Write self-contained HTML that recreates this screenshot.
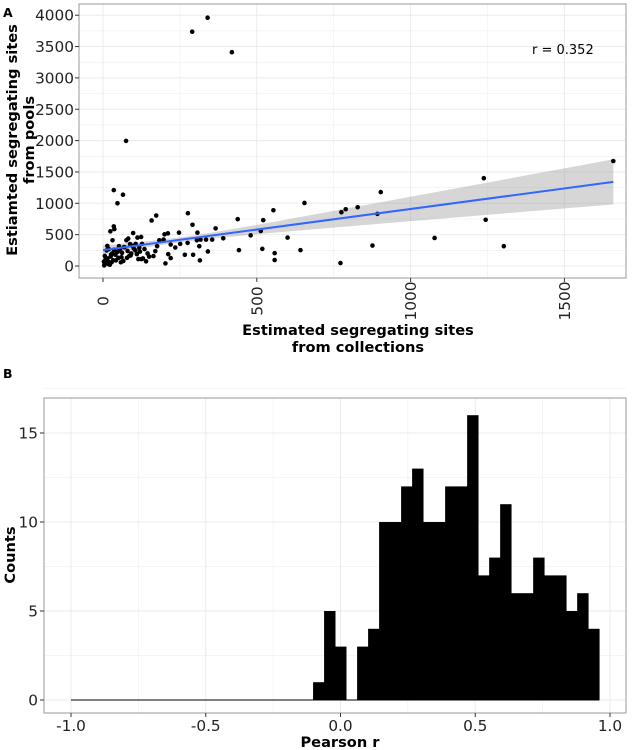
<!DOCTYPE html>
<html><head><meta charset="utf-8"><style>
body{margin:0;background:#fff;}
svg{display:block;font-family:"DejaVu Sans","Liberation Sans",sans-serif;}
</style></head><body>
<svg id="c" width="640" height="750"></svg>
<script>
// Panel A data
const scatterX=[340,290,419,75,35,65,47,1659,1238,903,655,554,828,789,775,892,1244,1078,1303,876,772,600,642,558,558,521,513,480,518,442,438,366,391,355,335,291,276,307,313,341,315,293,266,247,173,158,200,211,203,212,220,235,251,275,305,317,98,24,37,35,31,76,82,112,124,106,127,140,164,170,176,183,197,220,52,
5,10,15,20,25,30,12,18,8,40,45,55,60,70,80,90,100,110,120,130,22,28,33,50,62,85,95,105,115,135,145,150,14,26,42,58,68,78,88,4,16,36,48,66,92,118,125,6,3,19];
const scatterY=[3960,3737,3410,1995,1210,1137,1000,1674,1400,1179,1005,889,937,905,858,831,737,447,316,326,47,453,253,205,95,731,558,489,274,253,747,600,442,421,421,658,842,532,316,232,89,179,179,532,805,726,505,521,42,189,126,295,353,368,410,421,526,553,589,632,410,410,437,453,463,353,353,74,158,237,316,410,421,342,316,
40,80,120,60,150,200,250,30,100,180,220,260,140,300,240,170,280,190,230,120,20,60,90,130,210,160,320,250,110,270,200,150,320,180,90,60,300,130,350,10,50,260,230,80,200,290,110,160,70,270];
const fitIntercept=253, fitSlope=0.6564;
// Panel B data
const binStart=-1.0, binWidth=0.04083;
const counts=[0,0,0,0,0,0,0,0,0,0,0,0,0,0,0,0,0,0,0,0,0,0,1,5,3,0,3,4,10,10,12,13,10,10,12,12,16,7,8,11,6,6,8,7,7,5,6,4];
const aYTicks=[0,500,1000,1500,2000,2500,3000,3500,4000];
const aXTicks=[0,500,1000,1500];
const bXTicks=[-1.0,-0.5,0.0,0.5,1.0];
const bXLabels=["-1.0","-0.5","0.0","0.5","1.0"];
const bYTicks=[0,5,10,15];

const NS="http://www.w3.org/2000/svg";
const svg=document.getElementById('c');
function mk(t,a,p){const e=document.createElementNS(NS,t);for(const k in a)e.setAttribute(k,a[k]);(p||svg).appendChild(e);return e;}
const ax=v=>103+v*0.3076, ay=v=>266-v*0.0627;
const bx=v=>340.5+v*269.5, by=v=>700-v*17.8;
const BL=44, TF=15.3;

let t;
t=mk('text',{x:3,y:17,'font-size':12.5,'font-weight':'bold'});t.textContent='A';

t=mk('text',{x:3,y:378,'font-size':12.5,'font-weight':'bold'});t.textContent='B';


const gA=mk('g',{});
for(let v=0;v<=4000;v+=250){mk('line',{x1:79,x2:626,y1:ay(v),y2:ay(v),stroke:'#ebebeb','stroke-width':v%500?0.5:1},gA);}
for(let v=-250;v<=1750;v+=250){const x=ax(v);if(x<79||x>626)continue;mk('line',{x1:x,x2:x,y1:4,y2:278,stroke:'#ebebeb','stroke-width':v%500?0.5:1},gA);}
const xm=250;
let up=[],dn=[];
for(let i=0;i<=50;i++){const v=1659*i/50;const h=Math.sqrt(1600+0.0645*(v-xm)*(v-xm));const yv=fitIntercept+fitSlope*v;up.push(ax(v)+','+ay(yv+h));dn.unshift(ax(v)+','+ay(yv-h));}
t=mk('polygon',{points:up.concat(dn).join(' '),fill:'#999','fill-opacity':0.4});

const gP=mk('g',{});
for(let i=0;i<scatterX.length;i++){const c=mk('circle',{cx:ax(scatterX[i]),cy:ay(scatterY[i]),r:2.3,fill:'#000'},gP);
}
t=mk('line',{x1:ax(0),y1:ay(fitIntercept),x2:ax(1659),y2:ay(fitIntercept+fitSlope*1659),stroke:'#3366ff','stroke-width':2});

t=mk('rect',{x:79,y:4,width:547,height:274,fill:'none',stroke:'#999','stroke-width':1});

t=mk('text',{x:532,y:54,'font-size':13});t.textContent='r = 0.352';

aYTicks.forEach(v=>{mk('line',{x1:75,x2:79,y1:ay(v),y2:ay(v),stroke:'#333'});
const e=mk('text',{x:74,y:ay(v)+5.5,'font-size':TF,'text-anchor':'end',fill:'#222'});e.textContent=v;
});
aXTicks.forEach(v=>{mk('line',{x1:ax(v),x2:ax(v),y1:278,y2:282,stroke:'#333'});
const e=mk('text',{x:0,y:0,'font-size':TF,'text-anchor':'middle',fill:'#222',transform:`translate(${ax(v)+5.5},301) rotate(-90)`});e.textContent=v;
});
t=mk('text',{x:358,y:335,'font-size':14.6,'font-weight':'bold','text-anchor':'middle'});t.textContent='Estimated segregating sites';

t=mk('text',{x:358,y:352,'font-size':14.6,'font-weight':'bold','text-anchor':'middle'});t.textContent='from collections';

t=mk('text',{x:0,y:0,'font-size':14.6,'font-weight':'bold','text-anchor':'middle',transform:'translate(17,140) rotate(-90)'});t.textContent='Estiamted segregating sites';

t=mk('text',{x:0,y:0,'font-size':14.6,'font-weight':'bold','text-anchor':'middle',transform:'translate(34,140) rotate(-90)'});t.textContent='from pools';


const gB=mk('g',{});
for(let v=0;v<=17.5;v+=2.5){mk('line',{x1:BL,x2:626,y1:by(v),y2:by(v),stroke:'#ebebeb','stroke-width':v%5?0.5:1},gB);}
for(let v=-1.25;v<=1.1;v+=0.25){const x=bx(v);if(x<BL||x>626)continue;mk('line',{x1:x,x2:x,y1:398,y2:713,stroke:'#ebebeb','stroke-width':Math.abs(v*2-Math.round(v*2))>0.01?0.5:1},gB);}
const gH=mk('g',{});
mk('line',{x1:bx(binStart),x2:bx(binStart+binWidth*counts.length),y1:by(0),y2:by(0),stroke:'#000','stroke-width':1},gH);
counts.forEach((c,i)=>{if(!c)return;const x0=bx(binStart+i*binWidth),x1=bx(binStart+(i+1)*binWidth);
const r=mk('rect',{x:x0,y:by(c),width:x1-x0+0.4,height:by(0)-by(c),fill:'#000'},gH);
});
t=mk('rect',{x:BL,y:398,width:626-BL,height:315,fill:'none',stroke:'#999','stroke-width':1});

bYTicks.forEach(v=>{mk('line',{x1:BL-4,x2:BL,y1:by(v),y2:by(v),stroke:'#333'});
const e=mk('text',{x:BL-6,y:by(v)+5.5,'font-size':TF,'text-anchor':'end',fill:'#222'});e.textContent=v;
});
bXTicks.forEach((v,i)=>{mk('line',{x1:bx(v),x2:bx(v),y1:713,y2:717,stroke:'#333'});
const e=mk('text',{x:bx(v),y:731,'font-size':TF,'text-anchor':'middle',fill:'#222'});e.textContent=bXLabels[i];
});
t=mk('text',{x:340,y:747,'font-size':14.6,'font-weight':'bold','text-anchor':'middle'});t.textContent='Pearson r';

t=mk('text',{x:0,y:0,'font-size':14.6,'font-weight':'bold','text-anchor':'middle',transform:'translate(15,555) rotate(-90)'});t.textContent='Counts';

</script>
</body></html>
